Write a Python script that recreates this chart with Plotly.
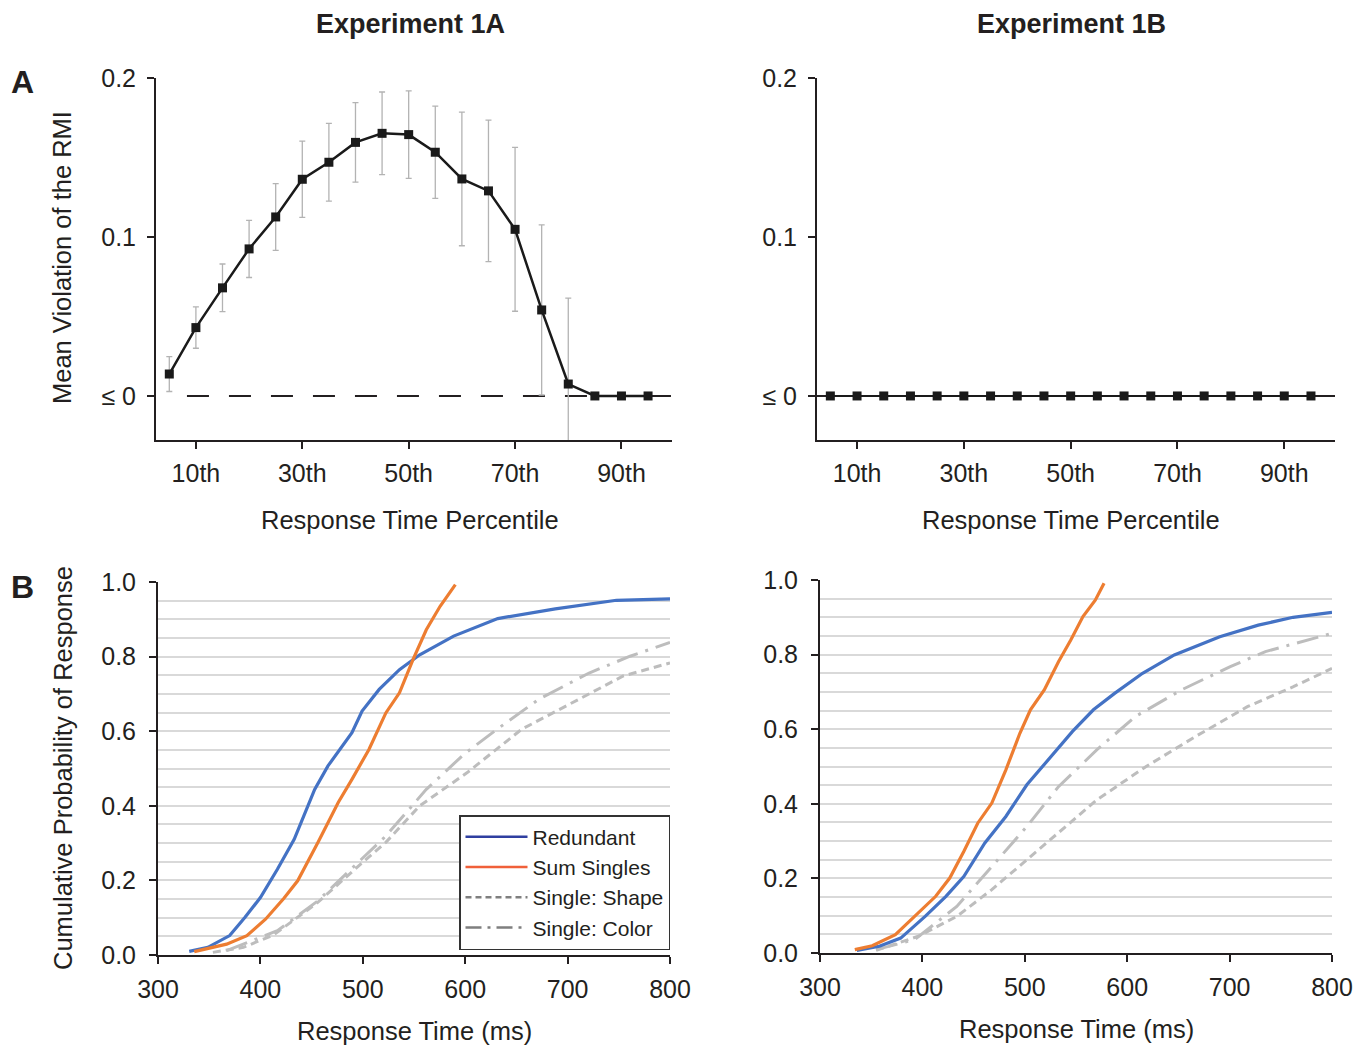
import plotly.graph_objects as go

# page body has an 8px margin: figure is sized/offset so reference pixels map 1:1
OFF = 8
W, H = 1368 - OFF, 1049 - OFF
FONT = "Liberation Sans, Arial, sans-serif"
TXT = "#231f20"

# ---------------- Panel A data ----------------
percentiles = [5, 10, 15, 20, 25, 30, 35, 40, 45, 50, 55, 60, 65, 70, 75, 80, 85, 90, 95]
viol_1a = [0.0138, 0.043, 0.068, 0.0925, 0.1126, 0.1363, 0.147, 0.1595, 0.1652, 0.1644,
           0.1533, 0.1365, 0.129, 0.1048, 0.0541, 0.0075, 0.0, 0.0, 0.0]
err_1a = [0.011, 0.013, 0.015, 0.018, 0.021, 0.024, 0.0245, 0.025, 0.026, 0.0275,
          0.029, 0.042, 0.0445, 0.0515, 0.0535, 0.054, None, None, None]
viol_1b = [0.0] * 19
pct_tickvals = [10, 30, 50, 70, 90]
pct_ticktext = ["10th", "30th", "50th", "70th", "90th"]

# ---------------- Panel B data (Experiment 1A) ----------------
a_red_rt = [330.5, 348.7, 370, 385, 400, 416.6, 433, 453, 466, 489.4, 499.3, 516, 535.8, 555.6, 588.7, 631.8, 688, 747.7, 800]
a_red_p = [0.0098, 0.0205, 0.052, 0.101, 0.154, 0.23, 0.31, 0.444, 0.507, 0.596, 0.654, 0.712, 0.765, 0.805, 0.855, 0.902, 0.928, 0.951, 0.955]
a_sum_rt = [335.4, 367, 386.8, 405, 423, 436.4, 456.3, 476, 489.4, 506, 522.5, 535.8, 549, 562, 575.5, 590.4]
a_sum_p = [0.009, 0.029, 0.052, 0.096, 0.152, 0.199, 0.302, 0.409, 0.471, 0.551, 0.649, 0.703, 0.792, 0.872, 0.935, 0.993]
a_shape_rt = [353.6, 383.4, 413, 456, 496, 522.5, 555.6, 602, 655, 704.6, 754.3, 800]
a_shape_p = [0.007, 0.0205, 0.054, 0.141, 0.239, 0.302, 0.4, 0.489, 0.605, 0.676, 0.748, 0.783]
a_color_rt = [367, 416.6, 456, 499.3, 522.5, 562, 598.7, 628.5, 671.5, 721, 761, 800]
a_color_p = [0.0116, 0.065, 0.145, 0.257, 0.319, 0.444, 0.538, 0.6, 0.685, 0.756, 0.801, 0.838]

# ---------------- Panel B data (Experiment 1B) ----------------
b_red_rt = [336, 358, 378.8, 402.7, 423, 440.4, 461, 481.5, 502, 522.6, 546.6, 567, 587.7, 615, 646, 690.4, 728, 762, 800]
b_red_p = [0.007, 0.018, 0.04, 0.098, 0.152, 0.205, 0.295, 0.366, 0.451, 0.518, 0.594, 0.652, 0.696, 0.75, 0.799, 0.848, 0.879, 0.9, 0.913]
b_sum_rt = [334, 351, 373.6, 396, 413, 426.7, 440.4, 454, 467.8, 481.5, 495.2, 505.5, 519, 532.9, 544.9, 556.8, 568.8, 577.4]
b_sum_p = [0.009, 0.0196, 0.049, 0.107, 0.152, 0.201, 0.272, 0.348, 0.402, 0.491, 0.589, 0.652, 0.705, 0.781, 0.839, 0.902, 0.946, 0.991]
b_shape_rt = [354.8, 396, 433.6, 467.8, 502, 536.3, 570.5, 618.5, 666.4, 717.8, 762.3, 800]
b_shape_p = [0.007, 0.045, 0.098, 0.17, 0.25, 0.33, 0.411, 0.5, 0.58, 0.661, 0.714, 0.763]
b_color_rt = [354.8, 392.5, 433.6, 467.8, 502, 532.9, 570.5, 608, 652.7, 700.7, 735, 800]
b_color_p = [0.009, 0.036, 0.125, 0.232, 0.339, 0.446, 0.545, 0.634, 0.705, 0.768, 0.808, 0.857]

legend_names = ["Redundant", "Sum Singles", "Single: Shape", "Single: Color"]

BLUE = "#4472C4"
ORANGE = "#ED7D31"
GRAY = "#BDBDBD"
DASH_SHAPE = "8px,5px"
DASH_COLOR = "22px,8px,3px,8px"


def px_x(x):
    return (x - OFF) / W


def px_y(y):
    return 1 - (y - OFF) / H


fig = go.Figure()

# ---- Panel A, Experiment 1A ----
fig.add_trace(go.Scatter(
    x=percentiles, y=viol_1a, mode="lines+markers", xaxis="x", yaxis="y",
    line=dict(color="#1a1a1a", width=2.5),
    marker=dict(symbol="square", size=9, color="#1a1a1a"),
    error_y=dict(type="data", array=err_1a, visible=True, color="#b3b3b3", thickness=1.3, width=3),
    showlegend=False, hoverinfo="skip"))

# ---- Panel A, Experiment 1B ----
fig.add_trace(go.Scatter(
    x=percentiles, y=viol_1b, mode="lines+markers", xaxis="x2", yaxis="y2",
    line=dict(color="#1a1a1a", width=2),
    marker=dict(symbol="square", size=9, color="#1a1a1a"),
    showlegend=False, hoverinfo="skip"))


# ---- Panel B curves ----
def add_curves(xa, ya, red, sm, sh, co):
    fig.add_trace(go.Scatter(x=sh[0], y=sh[1], mode="lines", xaxis=xa, yaxis=ya,
                             line=dict(color=GRAY, width=3, dash=DASH_SHAPE), showlegend=False))
    fig.add_trace(go.Scatter(x=co[0], y=co[1], mode="lines", xaxis=xa, yaxis=ya,
                             line=dict(color=GRAY, width=3, dash=DASH_COLOR), showlegend=False))
    fig.add_trace(go.Scatter(x=red[0], y=red[1], mode="lines", xaxis=xa, yaxis=ya,
                             line=dict(color=BLUE, width=3.2), showlegend=False))
    fig.add_trace(go.Scatter(x=sm[0], y=sm[1], mode="lines", xaxis=xa, yaxis=ya,
                             line=dict(color=ORANGE, width=3.2), showlegend=False))


add_curves("x3", "y3", (a_red_rt, a_red_p), (a_sum_rt, a_sum_p), (a_shape_rt, a_shape_p), (a_color_rt, a_color_p))
add_curves("x4", "y4", (b_red_rt, b_red_p), (b_sum_rt, b_sum_p), (b_shape_rt, b_shape_p), (b_color_rt, b_color_p))

# legend keys, styled like the reference key
leg_styles = [dict(color="#2f3fa0", width=2.5), dict(color="#f0603a", width=2.5),
              dict(color="#7f7f7f", width=2.5, dash="6px,4px"), dict(color="#7f7f7f", width=2.5, dash="16px,6px,3px,6px")]
for i, (nm, st) in enumerate(zip(legend_names, leg_styles)):
    fig.add_trace(go.Scatter(x=[None], y=[None], mode="lines", name=nm, line=st,
                             xaxis="x3", yaxis="y3", legendgroup=f"g{i}", showlegend=True))

tick_font = dict(family=FONT, size=25, color=TXT)
axis_common = dict(showline=True, linecolor="#231f20", linewidth=2, ticks="outside", ticklen=7,
                   tickwidth=2, tickcolor="#231f20", tickfont=tick_font, zeroline=False, showgrid=False)

# Top axes
y_top = [px_y(440), px_y(78)]
fig.update_layout(
    xaxis=dict(axis_common, domain=[px_x(156), px_x(672)], range=[2.5, 99.5], anchor="y",
               tickvals=pct_tickvals, ticktext=pct_ticktext, ticklabelstandoff=3),
    yaxis=dict(axis_common, domain=y_top, range=[-0.0277, 0.2], anchor="x",
               tickvals=[0, 0.1, 0.2], ticktext=["≤ 0", "0.1", "0.2"], ticklabelstandoff=6),
    xaxis2=dict(axis_common, domain=[px_x(817), px_x(1335)], range=[2.5, 99.5], anchor="y2",
                tickvals=pct_tickvals, ticktext=pct_ticktext, ticklabelstandoff=3),
    yaxis2=dict(axis_common, domain=y_top, range=[-0.0277, 0.2], anchor="x2",
                tickvals=[0, 0.1, 0.2], ticktext=["≤ 0", "0.1", "0.2"], ticklabelstandoff=6),
)

grid_minor = dict(dtick=0.05, showgrid=True, gridcolor="#d9d9d9", gridwidth=1.5, ticks="")
fig.update_layout(
    xaxis3=dict(axis_common, domain=[px_x(158), px_x(670)], range=[300, 800], anchor="y3",
                tickvals=[300, 400, 500, 600, 700, 800], ticklabelstandoff=4),
    yaxis3=dict(axis_common, domain=[px_y(955), px_y(582)], range=[0, 1], anchor="x3",
                tickvals=[0, 0.2, 0.4, 0.6, 0.8, 1.0], tickformat=".1f", showgrid=True,
                gridcolor="#d9d9d9", gridwidth=1.5, minor=grid_minor, ticklabelstandoff=8),
    xaxis4=dict(axis_common, domain=[px_x(820), px_x(1332)], range=[300, 800], anchor="y4",
                tickvals=[300, 400, 500, 600, 700, 800], ticklabelstandoff=4),
    yaxis4=dict(axis_common, domain=[px_y(953), px_y(580)], range=[0, 1], anchor="x4",
                tickvals=[0, 0.2, 0.4, 0.6, 0.8, 1.0], tickformat=".1f", showgrid=True,
                gridcolor="#d9d9d9", gridwidth=1.5, minor=grid_minor, ticklabelstandoff=8),
)

# zero reference lines in panel A
fig.add_shape(type="line", xref="x domain", yref="y", x0=0.06, x1=1, y0=0, y1=0,
              line=dict(color="#231f20", width=2, dash="22px,20px"), layer="below")
fig.add_shape(type="line", xref="x2 domain", yref="y2", x0=0, x1=1, y0=0, y1=0,
              line=dict(color="#231f20", width=2), layer="below")


def ann(text, x, y, size=25.5, bold=False, angle=0, yanchor="middle"):
    fig.add_annotation(text=f"<b>{text}</b>" if bold else text, x=px_x(x), y=px_y(y),
                       xref="paper", yref="paper", showarrow=False, textangle=angle,
                       xanchor="center", yanchor=yanchor, borderpad=0,
                       font=dict(family=FONT, size=size, color=TXT))


ann("Experiment 1A", 410, 8, size=27, bold=True, yanchor="top")
ann("Experiment 1B", 1071, 8, size=27, bold=True, yanchor="top")
ann("A", 22, 82, size=32, bold=True)
ann("B", 22, 587, size=32, bold=True)
ann("Mean Violation of the RMI", 62, 258, angle=-90)
ann("Cumulative Probability of Response", 63, 768, angle=-90)
ann("Response Time Percentile", 410, 520)
ann("Response Time Percentile", 1071, 520)
ann("Response Time (ms)", 414, 1031)
ann("Response Time (ms)", 1076, 1029)

fig.update_layout(
    width=W, height=H, margin=dict(l=0, r=0, t=0, b=0, autoexpand=False),
    paper_bgcolor="white", plot_bgcolor="white",
    font=dict(family=FONT, color=TXT),
    legend=dict(x=px_x(670), xanchor="right", y=px_y(815), yanchor="top",
                bgcolor="white", bordercolor="#333333", borderwidth=1.5,
                font=dict(family=FONT, size=21, color=TXT),
                itemwidth=62, tracegroupgap=7, traceorder="normal"),
)

fig.write_html("out.html")
